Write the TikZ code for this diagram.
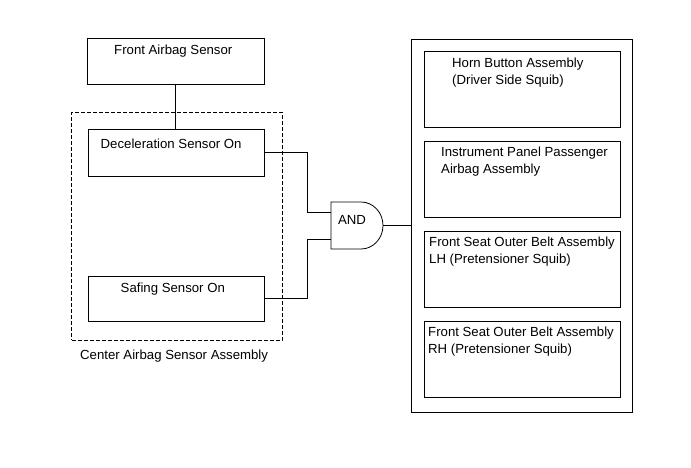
\documentclass[tikz,border=0pt]{standalone}
\usepackage{fontspec}
\setmainfont{Liberation Sans}
\tikzset{
  box/.style={draw, line width=0.8pt, anchor=north west, inner sep=0pt, outer sep=0pt},
  txt/.style={inner sep=0pt, font=\fontsize{13.2}{17}\selectfont},
  wire/.style={line width=0.8pt}
}
\begin{document}
\begin{tikzpicture}[x=1pt, y=-1pt]
\useasboundingbox (0,0) rectangle (691,467);
% sensor side
\node[box, minimum width=177pt, minimum height=46pt] (front) at (87,38) {};
\node[box, dash pattern=on 4pt off 2pt, minimum width=210.5pt, minimum height=228pt] (center) at (71.5,112) {};
\node[box, minimum width=176pt, minimum height=47pt] (decel) at (88,129) {};
\node[box, minimum width=176pt, minimum height=45pt] (safing) at (88,276) {};
\node[txt, anchor=base west] (frontlbl) at (114,54) {Front Airbag Sensor};
\node[txt, anchor=base west] (decellbl) at (100.5,148) {Deceleration Sensor On};
\node[txt, anchor=base west] (safinglbl) at (120.5,292) {Safing Sensor On};
\node[txt, anchor=base west] (centerlbl) at (80,359) {Center Airbag Sensor Assembly};
% AND gate
\draw[wire] (331,202) -- (361,202) arc[start angle=90, end angle=-90, x radius=22pt, y radius=23.5pt] -- (331,249) -- cycle;
\coordinate (in1) at (331,212.5);
\coordinate (in2) at (331,239);
\coordinate (out) at (383,225);
\node[txt, anchor=base] (andlbl) at (352,224) {AND};
% squib side
\node[box, minimum width=221.5pt, minimum height=373pt] (outer) at (411,39) {};
\node[box, minimum width=196.5pt, minimum height=75.5pt] (horn) at (424,51.5) {};
\node[box, minimum width=196.5pt, minimum height=76pt] (panel) at (424,141.5) {};
\node[box, minimum width=196.5pt, minimum height=76pt] (beltlh) at (424,231.5) {};
\node[box, minimum width=196.5pt, minimum height=76pt] (beltrh) at (424,321.5) {};
\node[txt, align=left, anchor=north west] (hornlbl) at (452,57.5) {Horn Button Assembly\\(Driver Side Squib)};
\node[txt, align=left, anchor=north west] (panellbl) at (441,146.5) {Instrument Panel Passenger\\Airbag Assembly};
\node[txt, align=left, anchor=north west] (beltlhlbl) at (429,237) {Front Seat Outer Belt Assembly\\LH (Pretensioner Squib)};
\node[txt, align=left, anchor=north west] (beltrhlbl) at (428,326.5) {Front Seat Outer Belt Assembly\\RH (Pretensioner Squib)};
% wiring
\draw[wire] (front.south) -- (front.south |- decel.north);
\draw[wire] (decel.east) -- ++(43.5,0) |- (in1);
\draw[wire] (safing.east) -- ++(43.5,0) |- (in2);
\draw[wire] (out) -- (outer.west |- out);
\end{tikzpicture}
\end{document}
